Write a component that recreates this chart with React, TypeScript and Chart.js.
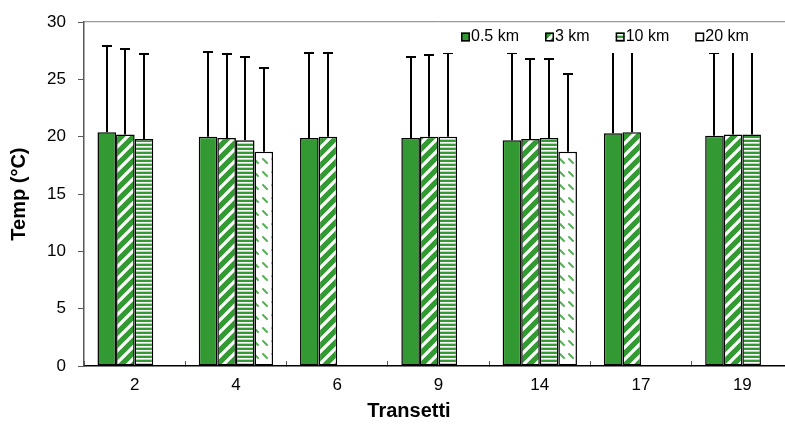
import React, { useEffect, useRef } from "react";
import { Chart, registerables } from "chart.js";

Chart.register(...registerables);

const categories = ["2", "4", "6", "9", "14", "17", "19"];
const seriesLabels = ["0.5 km", "3 km", "10 km", "20 km"];

const temp05 = [20.4, 20.0, 19.9, 19.9, 19.7, 20.3, 20.1];
const temp3 = [20.2, 19.9, 20.0, 20.0, 19.8, 20.4, 20.2];
const temp10 = [19.8, 19.7, null, 20.0, 19.9, null, 20.2];
const temp20 = [null, 18.7, null, null, 18.7, null, null];

const err05 = [7.5, 7.4, 7.4, 7.1, 7.6, 7.3, 7.2];
const err3 = [7.5, 7.3, 7.3, 7.1, 7.0, 7.2, 7.2];
const err10 = [7.4, 7.3, null, 7.3, 6.9, null, 7.2];
const err20 = [null, 7.3, null, null, 6.8, null, null];

const yTicks = [0, 5, 10, 15, 20, 25, 30];

const GREEN = "#339933";
const FONT = "'Liberation Sans', Arial, sans-serif";

function makePattern(kind: string): CanvasPattern | string {
  const c = document.createElement("canvas");
  const g = c.getContext("2d");
  if (!g) return GREEN;
  if (kind === "diag") {
    c.width = 12;
    c.height = 12;
    g.fillStyle = GREEN;
    g.fillRect(0, 0, 12, 12);
    g.strokeStyle = "#ffffff";
    g.lineWidth = 3.2;
    g.beginPath();
    for (const o of [-12, 0, 12]) {
      g.moveTo(o - 2, 14);
      g.lineTo(o + 14, -2);
    }
    g.stroke();
  } else if (kind === "horiz") {
    c.width = 4;
    c.height = 4;
    g.fillStyle = GREEN;
    g.fillRect(0, 0, 4, 4);
    g.fillStyle = "#ffffff";
    g.fillRect(0, 2, 4, 1);
    g.fillStyle = "#b5dcb5";
    g.fillRect(0, 3, 4, 1);
  } else if (kind === "dash") {
    c.width = 9;
    c.height = 13;
    g.fillStyle = "#ffffff";
    g.fillRect(0, 0, 9, 13);
    g.strokeStyle = "#55b055";
    g.lineWidth = 2;
    g.lineCap = "round";
    g.beginPath();
    g.moveTo(2, 3);
    g.lineTo(6, 7);
    g.stroke();
  } else {
    return GREEN;
  }
  return g.createPattern(c, "repeat") || GREEN;
}

export default function App() {
  const ref = useRef<HTMLCanvasElement | null>(null);

  useEffect(() => {
    const canvas = ref.current;
    if (!canvas) return;
    const fills = [GREEN, makePattern("diag"), makePattern("horiz"), makePattern("dash")];
    const values = [temp05, temp3, temp10, temp20];
    const errors = [err05, err3, err10, err20];

    const errorBars = {
      id: "errorBars",
      afterDatasetsDraw(chart: any) {
        const ctx = chart.ctx;
        const ys = chart.scales.y;
        ctx.save();
        ctx.strokeStyle = "#000";
        ctx.lineWidth = 2;
        chart.data.datasets.forEach((ds: any, di: number) => {
          const meta = chart.getDatasetMeta(di);
          meta.data.forEach((bar: any, i: number) => {
            const v = ds.data[i];
            const e = errors[di][i];
            if (v == null || e == null) return;
            const yTop = Math.round(ys.getPixelForValue(v + e));
            const x = Math.round(bar.x);
            ctx.beginPath();
            ctx.moveTo(x, bar.y);
            ctx.lineTo(x, yTop);
            ctx.moveTo(x - 5, yTop);
            ctx.lineTo(x + 5, yTop);
            ctx.stroke();
          });
        });
        ctx.restore();
      },
    };

    const plotTop = {
      id: "plotTop",
      afterDraw(chart: any) {
        const { ctx, chartArea } = chart;
        ctx.save();
        ctx.strokeStyle = "#808080";
        ctx.lineWidth = 1;
        ctx.beginPath();
        ctx.moveTo(chartArea.left, chartArea.top - 0.5);
        ctx.lineTo(chartArea.right, chartArea.top - 0.5);
        ctx.stroke();
        ctx.restore();
      },
    };

    const boxLegend = {
      id: "boxLegend",
      afterDraw(chart: any) {
        const { ctx, chartArea } = chart;
        ctx.save();
        const left = 440;
        const top = chartArea.top + 2;
        const bottom = 53;
        ctx.fillStyle = "#fff";
        ctx.fillRect(left, top, chart.width - left, bottom - top);
        ctx.font = `16px ${FONT}`;
        ctx.textBaseline = "middle";
        ctx.textAlign = "left";
        let x = 461;
        const cy = 37;
        chart.data.datasets.forEach((ds: any) => {
          ctx.fillStyle = ds.backgroundColor;
          ctx.fillRect(x, cy - 4.5, 9, 9);
          ctx.strokeStyle = "#000";
          ctx.lineWidth = 1.5;
          ctx.strokeRect(x + 0.75, cy - 3.75, 7.5, 7.5);
          ctx.fillStyle = "#000";
          ctx.fillText(ds.label, x + 10, cy);
          const w = ctx.measureText(ds.label).width;
          x = x + 10 + w + 26;
        });
        ctx.restore();
      },
    };

    const chart = new Chart(canvas, {
      type: "bar",
      data: {
        labels: categories,
        datasets: seriesLabels.map((label, i) => ({
          label,
          data: values[i],
          backgroundColor: fills[i] as any,
          borderColor: "#000",
          borderWidth: 1.5,
          borderSkipped: false,
          categoryPercentage: 0.734,
          barPercentage: 1.0,
        })),
      },
      options: {
        responsive: false,
        animation: false,
        devicePixelRatio: 1,
        layout: { padding: { left: 0, right: 0, top: 17, bottom: 0 } },
        plugins: {
          legend: { display: false },
          tooltip: { enabled: false },
          title: {
            display: true,
            text: "Transetti",
            position: "bottom",
            color: "#000",
            font: { family: FONT, size: 20, weight: "bold" },
            padding: { top: 0, bottom: 2 },
          },
        },
        scales: {
          x: {
            type: "category",
            offset: true,
            grid: {
              display: true,
              offset: true,
              drawOnChartArea: false,
              drawTicks: true,
              tickLength: -5,
              color: "#595959",
              lineWidth: 1,
            },
            border: { display: true, color: "#000", width: 1.5 },
            ticks: {
              color: "#000",
              font: { family: FONT, size: 17 },
              padding: 14,
              maxRotation: 0,
              autoSkip: false,
            },
            afterFit: (s: any) => {
              s.height = 33;
            },
          },
          y: {
            min: 0,
            max: 30,
            afterBuildTicks: (s: any) => {
              s.ticks = yTicks.map((v) => ({ value: v }));
            },
            ticks: {
              color: "#000",
              font: { family: FONT, size: 17 },
              padding: 12,
            },
            grid: {
              drawOnChartArea: false,
              tickLength: 6,
              color: "#595959",
              lineWidth: 1,
            },
            border: { display: true, color: "#595959", width: 1.5 },
            title: {
              display: true,
              text: "Temp (°C)",
              color: "#000",
              font: { family: FONT, size: 20, weight: "bold" },
              padding: { top: 7, bottom: 0 },
            },
            afterFit: (s: any) => {
              s.width = 84;
            },
          },
          yR: {
            type: "linear",
            position: "right",
            display: true,
            grid: { display: false },
            ticks: { display: false },
            border: { display: false },
            afterFit: (s: any) => {
              s.width = 25;
            },
          },
        },
      } as any,
      plugins: [errorBars, plotTop, boxLegend],
    });
    return () => chart.destroy();
  }, []);

  return (
    <div
      style={{
        position: "fixed",
        left: 0,
        top: 0,
        width: 785,
        height: 425,
        overflow: "hidden",
        background: "#fff",
      }}
    >
      <canvas ref={ref} width={818} height={425} style={{ display: "block", width: 818, height: 425 }} />
    </div>
  );
}
